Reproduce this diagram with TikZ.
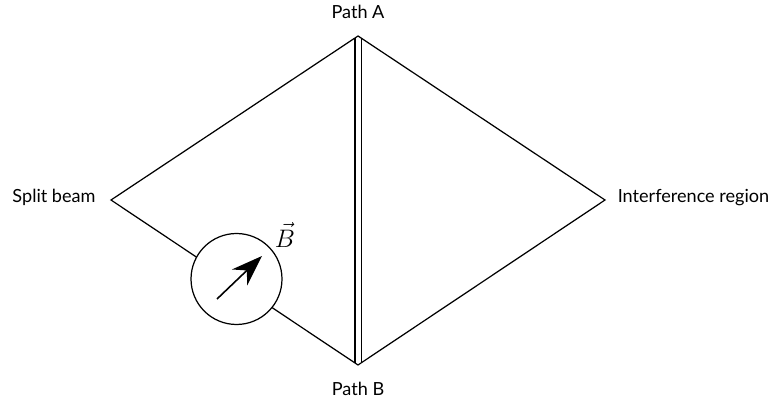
\documentclass[tikz,border=0pt]{standalone}
\usepackage{fontspec}
\setmainfont{Lato}
\usepackage{amsmath}
\usetikzlibrary{arrows.meta}

\begin{document}
\begin{tikzpicture}[x=0.02cm,y=0.02cm,line width=0.7pt,font=\fontsize{10.3}{12}\selectfont]
  \useasboundingbox (0,0) rectangle (770,402);
  \coordinate (split) at (111,202);
  \coordinate (top) at (358,366);
  \coordinate (bottom) at (358,37);
  \coordinate (interf) at (605,202);
  \coordinate (needletail) at (217,103);
  \coordinate (needletip) at (262,146);
  \draw[double,double distance=0.1cm] (358,364) -- (358,39);
  \draw (split) -- (top) -- (interf) -- (bottom) -- cycle;
  \node[draw,circle,fill=white,minimum size=1.82cm,inner sep=0pt] (meter) at (236.5,123) {};
  \draw[-{Stealth[length=0.62cm,width=0.44cm]},line width=0.9pt] (needletail) -- (needletip);
  \node[font=\fontsize{14.5}{16}\selectfont] (fieldlabel) at (285,167) {$\vec{B}$};
  \node (labelA) at (358,390) {Path A};
  \node (labelB) at (358,13) {Path B};
  \node (labelsplit) at (54,205) {Split beam};
  \node (labelinterf) at (693.5,204) {Interference region};
\end{tikzpicture}
\end{document}
